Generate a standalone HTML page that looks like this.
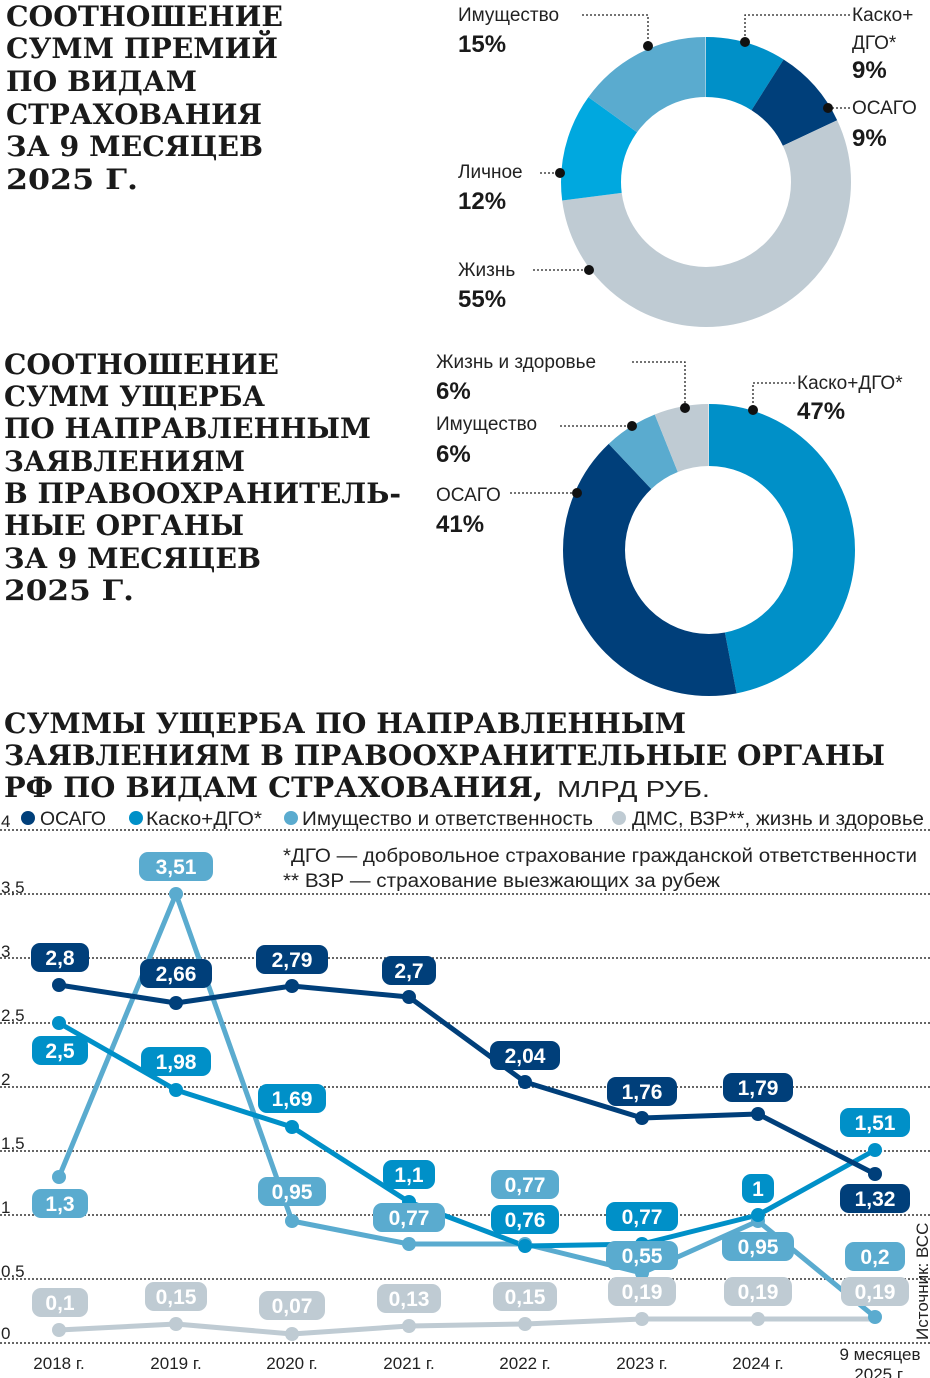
<!DOCTYPE html>
<html><head><meta charset="utf-8"><style>
html,body{margin:0;padding:0;background:#fff;}
svg{display:block;}
.t{font-family:"DejaVu Serif","Liberation Serif",serif;font-weight:bold;font-size:28px;fill:#1a1a1a;}
.n{font-family:"Liberation Sans Narrow","Liberation Sans",sans-serif;font-size:19px;fill:#222;}
.p{font-family:"Liberation Sans","DejaVu Sans",sans-serif;font-weight:bold;font-size:24px;fill:#1a1a1a;}
.ax{font-family:"Liberation Sans Narrow","Liberation Sans",sans-serif;font-size:17px;fill:#222;}
.lb{font-family:"Liberation Sans","DejaVu Sans",sans-serif;font-weight:bold;font-size:21px;fill:#fff;text-anchor:middle;}
.ld{fill:none;stroke:#222;stroke-width:1.3;stroke-dasharray:2 2;}
</style></head><body>
<svg width="930" height="1378" viewBox="0 0 930 1378" xmlns="http://www.w3.org/2000/svg">
<!-- Title 1 -->
<g class="t" lengthAdjust="spacingAndGlyphs">
<text x="6" y="26" textLength="277" lengthAdjust="spacingAndGlyphs">СООТНОШЕНИЕ</text>
<text x="6" y="58" textLength="272" lengthAdjust="spacingAndGlyphs">СУММ ПРЕМИЙ</text>
<text x="6" y="91" textLength="191" lengthAdjust="spacingAndGlyphs">ПО ВИДАМ</text>
<text x="6" y="124" textLength="256" lengthAdjust="spacingAndGlyphs">СТРАХОВАНИЯ</text>
<text x="6" y="156" textLength="257" lengthAdjust="spacingAndGlyphs">ЗА 9 МЕСЯЦЕВ</text>
<text x="6" y="189" textLength="132" lengthAdjust="spacingAndGlyphs">2025 Г.</text>
</g>
<!-- Donut 1 -->
<g transform="rotate(-90 706 182)" fill="none" stroke-width="60">
<circle cx="706" cy="182" r="115" pathLength="100" stroke="#0090c8" stroke-dasharray="9 100" stroke-dashoffset="0"/>
<circle cx="706" cy="182" r="115" pathLength="100" stroke="#003f7a" stroke-dasharray="9 100" stroke-dashoffset="-9"/>
<circle cx="706" cy="182" r="115" pathLength="100" stroke="#bfcbd3" stroke-dasharray="55 100" stroke-dashoffset="-18"/>
<circle cx="706" cy="182" r="115" pathLength="100" stroke="#00a8df" stroke-dasharray="12 100" stroke-dashoffset="-73"/>
<circle cx="706" cy="182" r="115" pathLength="100" stroke="#5aabcf" stroke-dasharray="15 100" stroke-dashoffset="-85"/>
</g>
<text class="n" x="458" y="21">Имущество</text><text class="p" x="458" y="52">15%</text>
<path class="ld" d="M582 15 H648 V46"/><circle cx="648" cy="46" r="5" fill="#111"/>
<text class="n" x="852" y="21">Каско+</text><text class="n" x="852" y="49">ДГО*</text><text class="p" x="852" y="78">9%</text>
<path class="ld" d="M850 15 H745 V42"/><circle cx="745" cy="42" r="5" fill="#111"/>
<text class="n" x="852" y="114">ОСАГО</text><text class="p" x="852" y="146">9%</text>
<path class="ld" d="M828 108 H850"/><circle cx="828" cy="108" r="5" fill="#111"/>
<text class="n" x="458" y="178">Личное</text><text class="p" x="458" y="209">12%</text>
<path class="ld" d="M540 173 H560"/><circle cx="560" cy="173" r="5" fill="#111"/>
<text class="n" x="458" y="276">Жизнь</text><text class="p" x="458" y="307">55%</text>
<path class="ld" d="M533 270 H589"/><circle cx="589" cy="270" r="5" fill="#111"/>

<!-- Title 2 -->
<g class="t">
<text x="4" y="374" textLength="275" lengthAdjust="spacingAndGlyphs">СООТНОШЕНИЕ</text>
<text x="4" y="406" textLength="261" lengthAdjust="spacingAndGlyphs">СУММ УЩЕРБА</text>
<text x="4" y="438" textLength="367" lengthAdjust="spacingAndGlyphs">ПО НАПРАВЛЕННЫМ</text>
<text x="4" y="471" textLength="241" lengthAdjust="spacingAndGlyphs">ЗАЯВЛЕНИЯМ</text>
<text x="4" y="503" textLength="397" lengthAdjust="spacingAndGlyphs">В ПРАВООХРАНИТЕЛЬ-</text>
<text x="4" y="535" textLength="240" lengthAdjust="spacingAndGlyphs">НЫЕ ОРГАНЫ</text>
<text x="4" y="568" textLength="257" lengthAdjust="spacingAndGlyphs">ЗА 9 МЕСЯЦЕВ</text>
<text x="4" y="600" textLength="130" lengthAdjust="spacingAndGlyphs">2025 Г.</text>
</g>
<!-- Donut 2 -->
<g transform="rotate(-90 709 550)" fill="none" stroke-width="62">
<circle cx="709" cy="550" r="115" pathLength="100" stroke="#0090c8" stroke-dasharray="47 100" stroke-dashoffset="0"/>
<circle cx="709" cy="550" r="115" pathLength="100" stroke="#003f7a" stroke-dasharray="41 100" stroke-dashoffset="-47"/>
<circle cx="709" cy="550" r="115" pathLength="100" stroke="#5aabcf" stroke-dasharray="6 100" stroke-dashoffset="-88"/>
<circle cx="709" cy="550" r="115" pathLength="100" stroke="#bfcbd3" stroke-dasharray="6 100" stroke-dashoffset="-94"/>
</g>
<text class="n" x="436" y="368">Жизнь и здоровье</text><text class="p" x="436" y="399">6%</text>
<path class="ld" d="M632 362 H685 V408"/><circle cx="685" cy="408" r="5" fill="#111"/>
<text class="n" x="797" y="389">Каско+ДГО*</text><text class="p" x="797" y="419">47%</text>
<path class="ld" d="M795 383 H753 V410"/><circle cx="753" cy="410" r="5" fill="#111"/>
<text class="n" x="436" y="430">Имущество</text><text class="p" x="436" y="462">6%</text>
<path class="ld" d="M560 426 H632"/><circle cx="632" cy="426" r="5" fill="#111"/>
<text class="n" x="436" y="501">ОСАГО</text><text class="p" x="436" y="532">41%</text>
<path class="ld" d="M510 493 H577"/><circle cx="577" cy="493" r="5" fill="#111"/>

<!-- Title 3 -->
<g class="t">
<text x="4" y="733" textLength="682" lengthAdjust="spacingAndGlyphs">СУММЫ УЩЕРБА ПО НАПРАВЛЕННЫМ</text>
<text x="4" y="765" textLength="881" lengthAdjust="spacingAndGlyphs">ЗАЯВЛЕНИЯМ В ПРАВООХРАНИТЕЛЬНЫЕ ОРГАНЫ</text>
<text x="4" y="797" textLength="539" lengthAdjust="spacingAndGlyphs">РФ ПО ВИДАМ СТРАХОВАНИЯ,</text>
</g>
<text x="557" y="797" textLength="153" lengthAdjust="spacingAndGlyphs" font-family="Liberation Sans Narrow, Liberation Sans, sans-serif" font-size="23px" fill="#222">МЛРД РУБ.</text>
<!-- Legend -->
<g class="n">
<circle cx="28" cy="818" r="7" fill="#003f7a"/><text x="40" y="825" textLength="66" lengthAdjust="spacingAndGlyphs">ОСАГО</text>
<circle cx="136" cy="818" r="7" fill="#0090c8"/><text x="146" y="825" textLength="116" lengthAdjust="spacingAndGlyphs">Каско+ДГО*</text>
<circle cx="291" cy="818" r="7" fill="#5aabcf"/><text x="302" y="825" textLength="291" lengthAdjust="spacingAndGlyphs">Имущество и ответственность</text>
<circle cx="619" cy="818" r="7" fill="#bfcbd3"/><text x="632" y="825" textLength="292" lengthAdjust="spacingAndGlyphs">ДМС, ВЗР**, жизнь и здоровье</text>
<text x="283" y="862" textLength="634" lengthAdjust="spacingAndGlyphs">*ДГО — добровольное страхование гражданской ответственности</text>
<text x="283" y="887" textLength="437" lengthAdjust="spacingAndGlyphs">** ВЗР — страхование выезжающих за рубеж</text>
</g>
<!-- Grid -->
<g stroke="#333" stroke-width="1.5" stroke-dasharray="2 2">
<line x1="0" x2="930" y1="830" y2="830"/><line x1="0" x2="930" y1="894" y2="894"/>
<line x1="0" x2="930" y1="958" y2="958"/><line x1="0" x2="930" y1="1023" y2="1023"/>
<line x1="0" x2="930" y1="1087" y2="1087"/><line x1="0" x2="930" y1="1151" y2="1151"/>
<line x1="0" x2="930" y1="1215" y2="1215"/><line x1="0" x2="930" y1="1279" y2="1279"/>
<line x1="0" x2="930" y1="1343" y2="1343"/>
</g>
<g class="ax">
<text x="1" y="827">4</text><text x="1" y="893">3,5</text><text x="1" y="957">3</text>
<text x="1" y="1021">2,5</text><text x="1" y="1085">2</text><text x="1" y="1149">1,5</text>
<text x="1" y="1213">1</text><text x="1" y="1277">0,5</text><text x="1" y="1339">0</text>
</g>
<g class="ax" font-size="18px" text-anchor="middle">
<text x="59" y="1369">2018 г.</text><text x="176" y="1369">2019 г.</text><text x="292" y="1369">2020 г.</text>
<text x="409" y="1369">2021 г.</text><text x="525" y="1369">2022 г.</text><text x="642" y="1369">2023 г.</text>
<text x="758" y="1369">2024 г.</text><text x="880" y="1360">9 месяцев</text><text x="880" y="1380">2025 г.</text>
</g>
<text class="ax" font-size="18px" transform="translate(928 1340) rotate(-90)">Источник: ВСС</text>
<!-- Lines -->
<g fill="none" stroke-width="5" stroke-linejoin="round">
<polyline stroke="#bfcbd3" points="59,1330 176,1324 292,1334 409,1326 525,1324 642,1319 758,1319 875,1319"/>
<polyline stroke="#5aabcf" points="59,1177 176,894 292,1221 409,1244 525,1244 642,1273 758,1221 875,1317"/>
<polyline stroke="#0090c8" points="59,1023 176,1090 292,1127 409,1202 525,1246 642,1244 758,1215 875,1150"/>
<polyline stroke="#003f7a" points="59,985 176,1003 292,986 409,997 525,1082 642,1118 758,1114 875,1174"/>
</g>
<g fill="#bfcbd3"><circle cx="59" cy="1330" r="7"/><circle cx="176" cy="1324" r="7"/><circle cx="292" cy="1334" r="7"/><circle cx="409" cy="1326" r="7"/><circle cx="525" cy="1324" r="7"/><circle cx="642" cy="1319" r="7"/><circle cx="758" cy="1319" r="7"/></g>
<g fill="#5aabcf"><circle cx="59" cy="1177" r="7"/><circle cx="176" cy="894" r="7"/><circle cx="292" cy="1221" r="7"/><circle cx="409" cy="1244" r="7"/><circle cx="525" cy="1244" r="7"/><circle cx="642" cy="1273" r="7"/><circle cx="758" cy="1221" r="7"/><circle cx="875" cy="1317" r="7"/></g>
<g fill="#0090c8"><circle cx="59" cy="1023" r="7"/><circle cx="176" cy="1090" r="7"/><circle cx="292" cy="1127" r="7"/><circle cx="409" cy="1202" r="7"/><circle cx="525" cy="1246" r="7"/><circle cx="642" cy="1244" r="7"/><circle cx="758" cy="1215" r="7"/><circle cx="875" cy="1150" r="7"/></g>
<g fill="#003f7a"><circle cx="59" cy="985" r="7"/><circle cx="176" cy="1003" r="7"/><circle cx="292" cy="986" r="7"/><circle cx="409" cy="997" r="7"/><circle cx="525" cy="1082" r="7"/><circle cx="642" cy="1118" r="7"/><circle cx="758" cy="1114" r="7"/><circle cx="875" cy="1174" r="7"/></g>
<!-- Labels: ДМС -->
<g fill="#bfcbd3">
<rect x="32" y="1288" width="56" height="29" rx="9"/><rect x="145" y="1282" width="62" height="29" rx="9"/>
<rect x="259" y="1291" width="66" height="29" rx="9"/><rect x="377" y="1284" width="64" height="29" rx="9"/>
<rect x="493" y="1282" width="64" height="29" rx="9"/><rect x="608" y="1277" width="68" height="29" rx="9"/>
<rect x="724" y="1277" width="68" height="29" rx="9"/><rect x="841" y="1277" width="68" height="29" rx="9"/>
</g>
<g class="lb">
<text x="60" y="1310">0,1</text><text x="176" y="1304">0,15</text><text x="292" y="1313">0,07</text><text x="409" y="1306">0,13</text>
<text x="525" y="1304">0,15</text><text x="642" y="1299">0,19</text><text x="758" y="1299">0,19</text><text x="875" y="1299">0,19</text>
</g>
<!-- Имущество -->
<g fill="#5aabcf">
<rect x="32" y="1189" width="56" height="29" rx="9"/><rect x="139" y="852" width="74" height="29" rx="9"/>
<rect x="258" y="1177" width="68" height="29" rx="9"/><rect x="373" y="1203" width="72" height="29" rx="9"/>
<rect x="491" y="1170" width="68" height="29" rx="9"/><rect x="606" y="1241" width="72" height="29" rx="9"/>
<rect x="722" y="1232" width="72" height="29" rx="9"/><rect x="845" y="1242" width="60" height="29" rx="9"/>
</g>
<g class="lb">
<text x="60" y="1211">1,3</text><text x="176" y="874">3,51</text><text x="292" y="1199">0,95</text><text x="409" y="1225">0,77</text>
<text x="525" y="1192">0,77</text><text x="642" y="1263">0,55</text><text x="758" y="1254">0,95</text><text x="875" y="1264">0,2</text>
</g>
<!-- Каско -->
<g fill="#0090c8">
<rect x="32" y="1036" width="56" height="29" rx="9"/><rect x="141" y="1047" width="70" height="29" rx="9"/>
<rect x="258" y="1084" width="68" height="29" rx="9"/><rect x="383" y="1160" width="52" height="29" rx="9"/>
<rect x="491" y="1205" width="68" height="29" rx="9"/><rect x="606" y="1202" width="72" height="29" rx="9"/>
<rect x="742" y="1174" width="32" height="29" rx="9"/><rect x="840" y="1108" width="70" height="29" rx="9"/>
</g>
<g class="lb">
<text x="60" y="1058">2,5</text><text x="176" y="1069">1,98</text><text x="292" y="1106">1,69</text><text x="409" y="1182">1,1</text>
<text x="525" y="1227">0,76</text><text x="642" y="1224">0,77</text><text x="758" y="1196">1</text><text x="875" y="1130">1,51</text>
</g>
<!-- ОСАГО -->
<g fill="#003f7a">
<rect x="31" y="943" width="58" height="29" rx="9"/><rect x="140" y="959" width="72" height="29" rx="9"/>
<rect x="256" y="945" width="72" height="29" rx="9"/><rect x="382" y="956" width="54" height="29" rx="9"/>
<rect x="490" y="1041" width="70" height="29" rx="9"/><rect x="607" y="1077" width="70" height="29" rx="9"/>
<rect x="723" y="1073" width="70" height="29" rx="9"/><rect x="840" y="1184" width="70" height="29" rx="9"/>
</g>
<g class="lb">
<text x="60" y="965">2,8</text><text x="176" y="981">2,66</text><text x="292" y="967">2,79</text><text x="409" y="978">2,7</text>
<text x="525" y="1063">2,04</text><text x="642" y="1099">1,76</text><text x="758" y="1095">1,79</text><text x="875" y="1206">1,32</text>
</g>
</svg>
</body></html>
